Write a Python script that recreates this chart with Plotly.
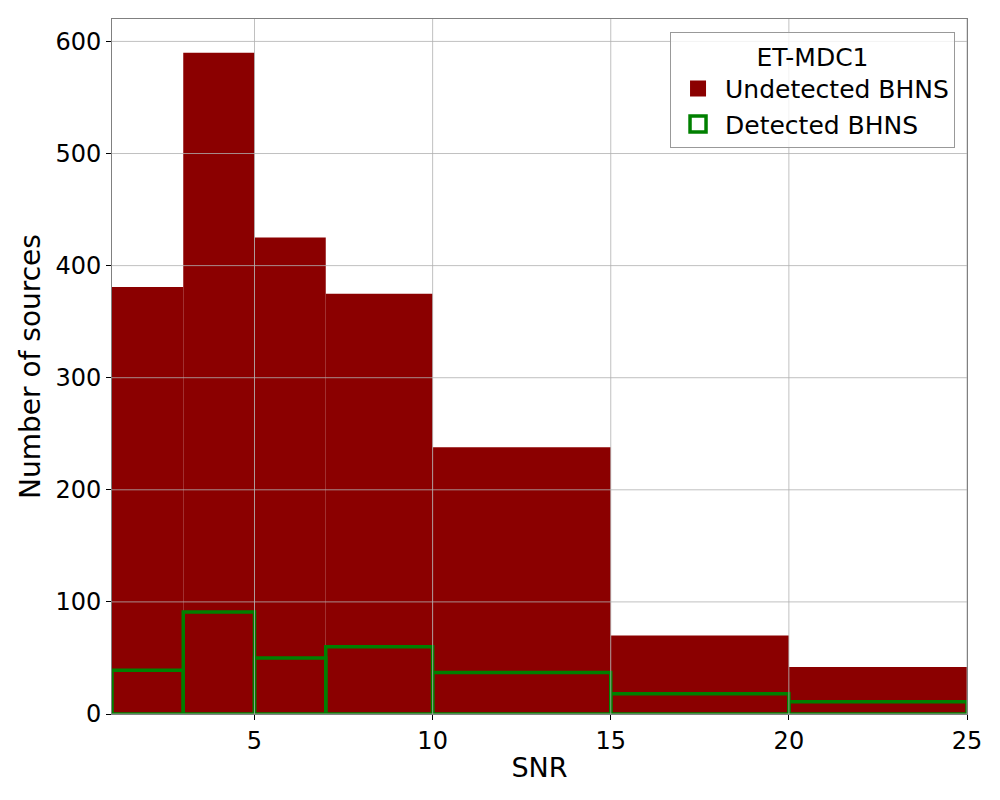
import plotly.graph_objects as go

bin_edges = [1, 3, 5, 7, 10, 15, 20, 25]
undetected = [381, 590, 425, 375, 238, 70, 42]
detected = [39, 91, 50, 60, 37, 18, 11]
x_ticks = [5, 10, 15, 20, 25]
y_ticks = [0, 100, 200, 300, 400, 500, 600]

centers = [(a + b) / 2 for a, b in zip(bin_edges[:-1], bin_edges[1:])]
widths = [b - a for a, b in zip(bin_edges[:-1], bin_edges[1:])]

RED = "#8b0000"
GREEN = "#008000"

fig = go.Figure()
fig.add_trace(go.Bar(
    x=centers, y=undetected, width=widths, name="Undetected BHNS",
    marker=dict(color=RED, line=dict(width=0)), showlegend=False,
))
fig.add_trace(go.Bar(
    x=centers, y=detected, width=widths, name="Detected BHNS",
    marker=dict(color="rgba(0,0,0,0)", line=dict(color=GREEN, width=3.5)),
    showlegend=False,
))
# legend entries with larger patch symbols
fig.add_trace(go.Scatter(
    x=[None], y=[None], mode="markers", name="Undetected BHNS",
    marker=dict(symbol="square", size=22, color=RED, line=dict(width=0)),
))
fig.add_trace(go.Scatter(
    x=[None], y=[None], mode="markers", name="Detected BHNS",
    marker=dict(symbol="square-open", size=20, color=GREEN, line=dict(color=GREEN, width=3.5)),
))

grid_color = "#b0b0b0"
for xv in x_ticks:
    fig.add_shape(type="line", xref="x", yref="paper", x0=xv, x1=xv, y0=0, y1=1,
                  line=dict(color=grid_color, width=0.8), layer="above")
for yv in y_ticks:
    fig.add_shape(type="line", xref="paper", yref="y", x0=0, x1=1, y0=yv, y1=yv,
                  line=dict(color=grid_color, width=0.8), layer="above")

fig.update_layout(
    width=1000, height=800,
    margin=dict(l=104, r=41, t=11, b=94),
    barmode="overlay",
    plot_bgcolor="white", paper_bgcolor="white",
    font=dict(family="DejaVu Sans", size=25, color="black"),
    showlegend=True,
    legend=dict(
        title=dict(text="ET-MDC1", side="top center", font=dict(size=25)),
        x=0.986, y=0.981, xanchor="right", yanchor="top",
        bordercolor="#999999", borderwidth=1, bgcolor="rgba(255,255,255,0.8)",
        font=dict(size=25), itemsizing="trace", itemwidth=44, tracegroupgap=4,
    ),
    xaxis=dict(
        range=[1, 25], tickvals=x_ticks, showgrid=False, zeroline=False,
        showline=True, mirror=True, linecolor="#808080", linewidth=1,
        ticks="outside", ticklen=5, tickcolor="black", tickfont=dict(size=24),
        title=dict(text="SNR", font=dict(size=27), standoff=4),
    ),
    yaxis=dict(
        range=[0, 620], tickvals=y_ticks, showgrid=False, zeroline=False,
        showline=True, mirror=True, linecolor="#808080", linewidth=1,
        ticks="outside", ticklen=5, tickcolor="black", tickfont=dict(size=24),
        title=dict(text="Number of sources", font=dict(size=28), standoff=6),
    ),
)

fig.write_html("out.html")
